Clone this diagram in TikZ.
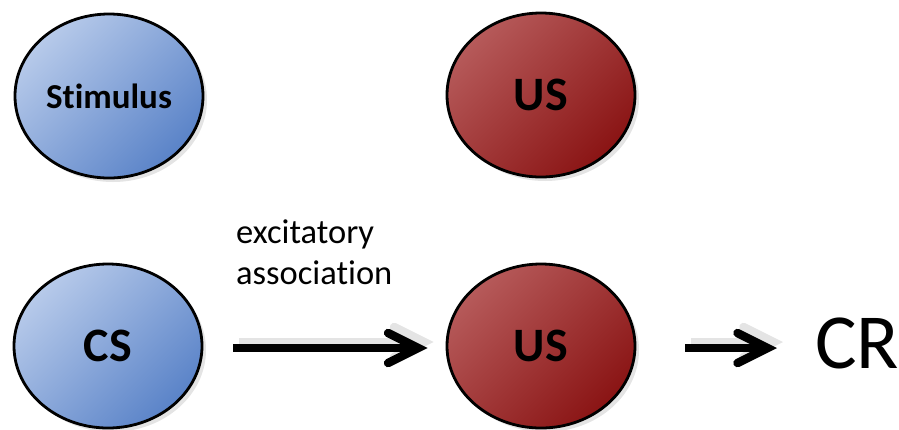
\documentclass[tikz,border=0pt]{standalone}
\usepackage{fontspec}
\setmainfont{Carlito}[Ligatures=NoCommon]
\usetikzlibrary{arrows.meta,shadows,shapes.geometric}

\definecolor{blueLight}{HTML}{B7CAEA}
\definecolor{blueDark}{HTML}{5A83C8}
\definecolor{redLight}{HTML}{B65A5A}
\definecolor{redDark}{HTML}{8A1414}
\definecolor{shadowGray}{HTML}{E4E4E4}

\tikzset{
  blob/.style={ellipse, draw=black, line width=2.8pt,
    minimum width=188pt, minimum height=164pt, inner sep=0pt,
    drop shadow={shadow xshift=4pt, shadow yshift=-4pt, fill=shadowGray, opacity=1},
    font=\bfseries\fontsize{48}{56}\selectfont},
  bluefill/.style={top color=blueLight, bottom color=blueDark, shading angle=45},
  redfill/.style={top color=redLight, bottom color=redDark, shading angle=45},
  fatarrow/.style={line width=8.5pt,
    -{Straight Barb[length=30pt, width=30pt, line cap=round, line join=miter]}},
  arrowshadow/.style={fatarrow, draw=shadowGray, transform canvas={xshift=6pt, yshift=6pt}}
}

\begin{document}
\begin{tikzpicture}[x=1pt,y=-1pt]
  \useasboundingbox (0,0) rectangle (899,429);

  % upper row
  \node[blob, bluefill, font=\bfseries\fontsize{35}{42}\selectfont] (stim) at (109,96) {Stimulus};
  \node[blob, redfill] (usA) at (541,95) {US};

  % lower row
  \node[blob, bluefill] (cs) at (108,346) {CS};
  \node[blob, redfill] (usB) at (541,346) {US};
  \node[anchor=base west, inner sep=0pt, font=\fontsize{78}{90}\selectfont] (cr) at (815,368) {CR};

  % association label (base anchor sits on the last line)
  \node[anchor=base west, inner sep=0pt, align=left,
        font=\fontsize{34.5}{41}\selectfont] (lab) at (236,284) {excitatory\\association};

  % connectors with soft shadows
  \draw[arrowshadow, shorten <=30pt, shorten >=18pt] ([yshift=-2pt]cs.east) -- ([yshift=-2pt]usB.west);
  \draw[fatarrow, shorten <=30pt, shorten >=18pt] ([yshift=-2pt]cs.east) -- ([yshift=-2pt]usB.west);
  \draw[arrowshadow, shorten <=49pt, shorten >=38pt] ([yshift=-2pt]usB.east) -- ([yshift=-2pt]usB.east -| cr.west);
  \draw[fatarrow, shorten <=49pt, shorten >=38pt] ([yshift=-2pt]usB.east) -- ([yshift=-2pt]usB.east -| cr.west);
\end{tikzpicture}
\end{document}
